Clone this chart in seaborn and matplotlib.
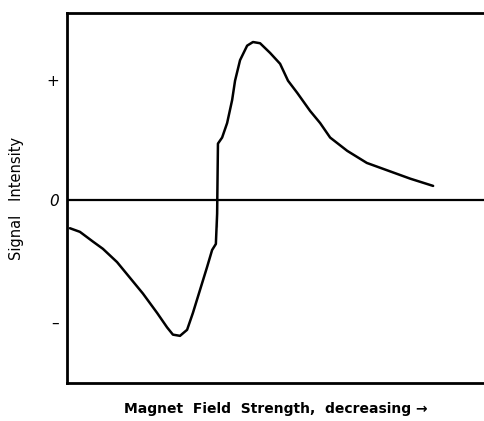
import matplotlib
matplotlib.use("Agg")
import matplotlib.pyplot as plt
import seaborn as sns
import pandas as pd

# Field position (arbitrary units, left -> right = decreasing field)
field = [0.7, 3.1, 6.2, 8.6, 12.0, 15.1, 18.2, 21.6, 24.0, 25.4, 27.1, 28.8, 30.2,
         31.9, 33.6, 34.8, 35.7, 36.0, 36.0, 36.2, 37.2, 38.4, 39.6, 40.3, 41.5,
         43.2, 44.6, 46.3, 48.7, 51.1, 53.0, 55.2, 58.3, 60.7, 63.1, 67.2, 71.9,
         76.7, 82.3, 87.8]
# Signal intensity (arbitrary units; +1 / -1 at tick marks)
signal = [-0.23, -0.26, -0.34, -0.40, -0.51, -0.64, -0.77, -0.93, -1.05, -1.11,
          -1.12, -1.07, -0.93, -0.74, -0.55, -0.41, -0.36, -0.22, 0.0, 0.47, 0.52,
          0.64, 0.83, 0.99, 1.16, 1.28, 1.31, 1.30, 1.22, 1.13, 0.99, 0.89, 0.74,
          0.64, 0.52, 0.41, 0.31, 0.25, 0.18, 0.12]

df = pd.DataFrame({"field": field, "signal": signal})

sns.set_style("white")
plt.rcParams['font.family'] = ['DejaVu Sans']
plt.rcParams['text.color'] = 'black'
plt.rcParams['axes.labelcolor'] = 'black'
plt.rcParams['ytick.color'] = 'black'

fig = plt.figure(figsize=(4.84, 4.21), dpi=100)
ax = fig.add_axes([67/484, 38/421, (484-67)/484, (383-13)/421])

sns.lineplot(data=df, x="field", y="signal", sort=False, color="black", lw=1.8, ax=ax)
ax.axhline(0, color="black", lw=1.6)

ax.set_xlim(0, 100)
ax.set_ylim(-1.51, 1.55)
ax.set_xticks([])
ax.set_yticks([-1, 0, 1])
ax.set_yticklabels(["\u2013", "0", "+"], fontsize=11)
ax.get_yticklabels()[1].set_style("italic")
ax.tick_params(axis="y", length=0, pad=6)

for side in ["left", "top", "bottom"]:
    ax.spines[side].set_color("black")
    ax.spines[side].set_linewidth(2)
ax.spines["right"].set_visible(False)

ax.set_xlabel("Magnet  Field  Strength,  decreasing \u2192", fontsize=10,
              fontweight="bold", labelpad=14)
ax.set_ylabel("Signal   Intensity", fontsize=10.5, labelpad=16)

fig.savefig("out.png", dpi=100)
